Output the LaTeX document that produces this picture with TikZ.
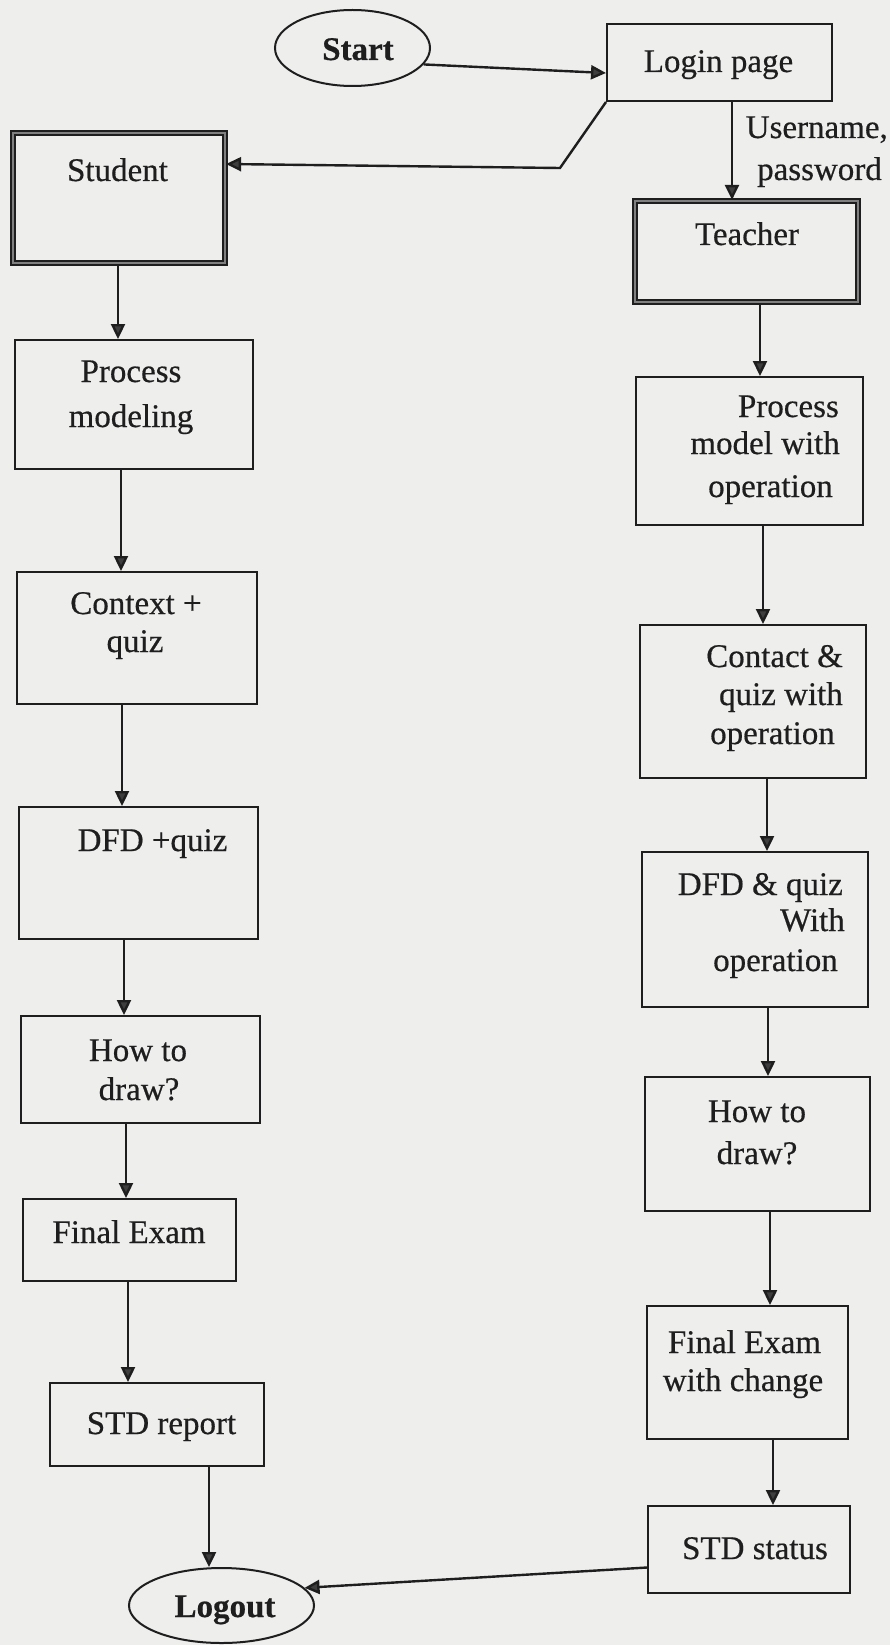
\documentclass[tikz,border=0pt]{standalone}
\usepackage{fontspec}
\setmainfont{Liberation Serif}[FakeBold=0.5]
\usetikzlibrary{arrows.meta,shapes.geometric}
\definecolor{paper}{RGB}{238,238,237}
\definecolor{ink}{RGB}{30,30,30}
\definecolor{tipgray}{RGB}{62,62,62}

\begin{document}
\begin{tikzpicture}[x=1pt,y=-1pt,
  box/.style={draw=ink, line width=2pt, rectangle, inner sep=0pt},
  actor/.style={draw=ink, line width=2.2pt, double=black!50, double distance=2pt, rectangle, inner sep=0pt},
  term/.style={draw=ink, line width=2pt, ellipse, inner sep=0pt},
  txt/.style={inner sep=0pt, anchor=base, text=ink, font=\fontsize{33}{39}\selectfont},
  rtxt/.style={txt, anchor=base east},
  btxt/.style={txt, font=\fontsize{33}{39}\selectfont\bfseries},
  arr/.style={draw=ink, line width=2.4pt, -{Triangle[length=15pt,width=14pt,fill=tipgray]}},
]
% page
\fill[paper] (0,0) rectangle (890,1645);
\useasboundingbox (0,0) rectangle (890,1645);

% entry and exit
\node[term, minimum width=155pt, minimum height=76pt] (start) at (352.5,48) {};
\node[term, minimum width=185pt, minimum height=75pt] (logout) at (221.5,1605.5) {};
\node[box, minimum width=225pt, minimum height=77pt] (login) at (719.5,62.5) {};

% users
\node[actor, minimum width=212pt, minimum height=130pt] (stu) at (119,198) {};
\node[actor, minimum width=223pt, minimum height=101pt] (tea) at (746.5,251.5) {};

% student column
\node[box, minimum width=238pt, minimum height=129pt] (lpm)  at (134,404.5) {};
\node[box, minimum width=240pt, minimum height=132pt] (lctx) at (137,638) {};
\node[box, minimum width=239pt, minimum height=132pt] (ldfd) at (138.5,873) {};
\node[box, minimum width=239pt, minimum height=107pt] (lhow) at (140.5,1069.5) {};
\node[box, minimum width=213pt, minimum height=82pt]  (lfin) at (129.5,1240) {};
\node[box, minimum width=214pt, minimum height=83pt]  (lrep) at (157,1424.5) {};

% teacher column
\node[box, minimum width=227pt, minimum height=148pt] (rpm)   at (749.5,451) {};
\node[box, minimum width=226pt, minimum height=153pt] (rctx)  at (753,701.5) {};
\node[box, minimum width=226pt, minimum height=155pt] (rdfd)  at (755,929.5) {};
\node[box, minimum width=225pt, minimum height=134pt] (rhow)  at (757.5,1144) {};
\node[box, minimum width=201pt, minimum height=133pt] (rfin)  at (747.5,1372.5) {};
\node[box, minimum width=202pt, minimum height=87pt]  (rstat) at (749,1549.5) {};

% labels
\node[btxt] (t-start) at (358,60) {Start};
\node[btxt] (t-logout) at (225,1617) {Logout};
\node[txt] (t-login) at (718.5,72) {Login page};
\node[rtxt] (t-user1) at (888,138) {Username,};
\node[rtxt] (t-user2) at (882,180) {password};
\node[txt] (t-stu) at (117.5,181) {Student};
\node[txt] (t-tea) at (747,245) {Teacher};

\node[txt] (t-lpm1) at (131,382) {Process};
\node[txt] (t-lpm2) at (131,427) {modeling};
\node[txt] (t-lctx1) at (136,614) {Context +};
\node[txt] (t-lctx2) at (135,652) {quiz};
\node[txt] (t-ldfd) at (152.5,851) {DFD +quiz};
\node[txt] (t-lhow1) at (138,1061) {How to};
\node[txt] (t-lhow2) at (139,1100) {draw?};
\node[txt] (t-lfin) at (129,1243) {Final Exam};
\node[txt] (t-lrep) at (161.5,1434) {STD report};

\node[rtxt] (t-rpm1) at (839,417) {Process};
\node[rtxt] (t-rpm2) at (840,454) {model with};
\node[rtxt] (t-rpm3) at (833,497) {operation};
\node[rtxt] (t-rctx1) at (843,667) {Contact \&};
\node[rtxt] (t-rctx2) at (843,705) {quiz with};
\node[rtxt] (t-rctx3) at (835,744) {operation};
\node[rtxt] (t-rdfd1) at (843,895) {DFD \& quiz};
\node[rtxt] (t-rdfd2) at (845,931) {With};
\node[rtxt] (t-rdfd3) at (838,971) {operation};
\node[txt] (t-rhow1) at (757,1122) {How to};
\node[txt] (t-rhow2) at (757,1164) {draw?};
\node[txt] (t-rfin1) at (744.5,1353) {Final Exam};
\node[txt] (t-rfin2) at (743,1391) {with change};
\node[txt] (t-rstat) at (755,1559) {STD status};

% connectors
\draw[arr] (start.-13) -- ([yshift=-10.5pt]login.west);
\coordinate (knee) at (560,168);
\draw[arr] (login.south west) -- (knee) -- ([yshift=34pt]stu.east);
\draw[arr] ([xshift=12.5pt]login.south) -- ([xshift=12.5pt]login.south |- tea.north);

\draw[arr] ([xshift=-1pt]stu.south)     -- ([xshift=-1pt]stu.south |- lpm.north);
\draw[arr] ([xshift=-13pt]lpm.south)    -- ([xshift=-13pt]lpm.south |- lctx.north);
\draw[arr] ([xshift=-15pt]lctx.south)   -- ([xshift=-15pt]lctx.south |- ldfd.north);
\draw[arr] ([xshift=-14.5pt]ldfd.south) -- ([xshift=-14.5pt]ldfd.south |- lhow.north);
\draw[arr] ([xshift=-14.5pt]lhow.south) -- ([xshift=-14.5pt]lhow.south |- lfin.north);
\draw[arr] ([xshift=-1.5pt]lfin.south)  -- ([xshift=-1.5pt]lfin.south |- lrep.north);
\draw[arr] ([xshift=52pt]lrep.south)    -- ([xshift=52pt]lrep.south |- logout.north);

\draw[arr] ([xshift=13.5pt]tea.south)   -- ([xshift=13.5pt]tea.south |- rpm.north);
\draw[arr] ([xshift=13.5pt]rpm.south)   -- ([xshift=13.5pt]rpm.south |- rctx.north);
\draw[arr] ([xshift=14pt]rctx.south)    -- ([xshift=14pt]rctx.south |- rdfd.north);
\draw[arr] ([xshift=13pt]rdfd.south)    -- ([xshift=13pt]rdfd.south |- rhow.north);
\draw[arr] ([xshift=12.5pt]rhow.south)  -- ([xshift=12.5pt]rhow.south |- rfin.north);
\draw[arr] ([xshift=25.5pt]rfin.south)  -- ([xshift=25.5pt]rfin.south |- rstat.north);
\draw[arr] ([yshift=-18pt]rstat.west)   -- (logout.12);
\end{tikzpicture}
\end{document}
